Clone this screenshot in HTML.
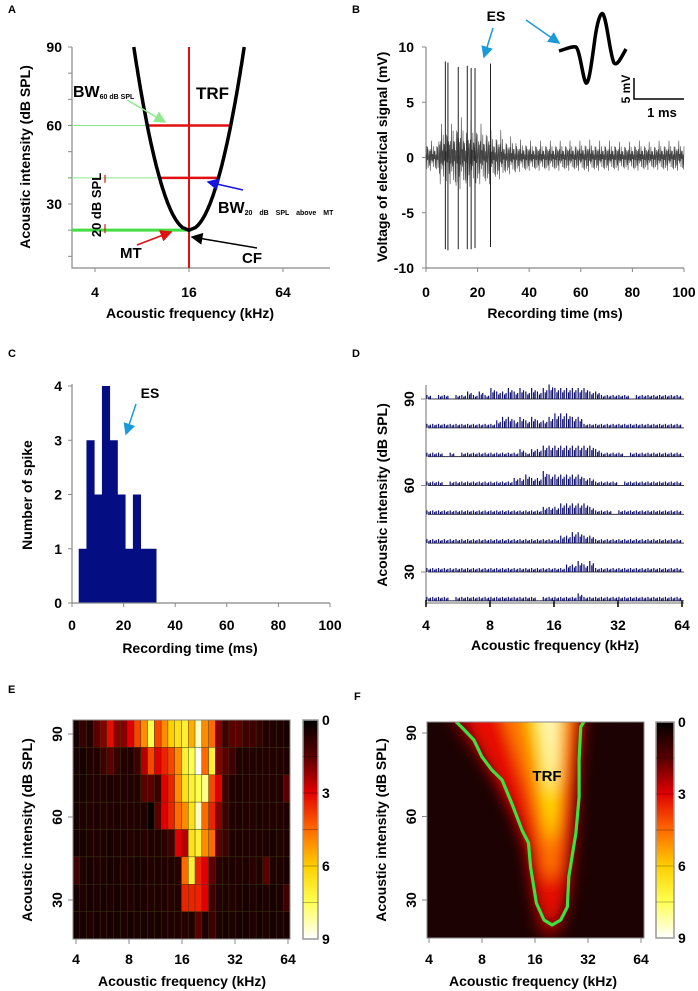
<!DOCTYPE html>
<html><head><meta charset="utf-8"><style>
body{margin:0;background:#fff}
svg{display:block;font-family:"Liberation Sans",Arial,sans-serif;font-weight:bold}
</style></head><body>
<svg id="fig" width="698" height="991" viewBox="0 0 698 991" xmlns="http://www.w3.org/2000/svg">
<defs>
<marker id="ag" markerWidth="8" markerHeight="8" refX="7" refY="4" orient="auto"><path d="M0,0 L8,4 L0,8 z" fill="#8ee88e"/></marker>
<marker id="ab" markerWidth="8" markerHeight="8" refX="7" refY="4" orient="auto"><path d="M0,0 L8,4 L0,8 z" fill="#1515e0"/></marker>
<marker id="ar" markerWidth="8" markerHeight="8" refX="7" refY="4" orient="auto"><path d="M0,0 L8,4 L0,8 z" fill="#e01010"/></marker>
<marker id="ak" markerWidth="8" markerHeight="8" refX="7" refY="4" orient="auto"><path d="M0,0 L8,4 L0,8 z" fill="#000"/></marker>
<marker id="ac" markerWidth="8" markerHeight="8" refX="7" refY="4" orient="auto"><path d="M0,0 L8,4 L0,8 z" fill="#1a9ad8"/></marker>
<linearGradient id="cbar" x1="0" y1="0" x2="0" y2="1">
<stop offset="0" stop-color="#000"/><stop offset="0.17" stop-color="#5a0000"/><stop offset="0.33" stop-color="#e00000"/><stop offset="0.5" stop-color="#ff6a00"/><stop offset="0.67" stop-color="#ffd000"/><stop offset="0.83" stop-color="#ffff50"/><stop offset="1" stop-color="#fff"/>
</linearGradient>
<filter id="blur" x="-20%" y="-20%" width="140%" height="140%"><feGaussianBlur stdDeviation="7"/></filter>
<clipPath id="fclip"><rect x="427" y="722" width="217" height="216"/></clipPath>
</defs>
<g id="A"></g>
<g id="B"></g>
<g id="C"></g>
<g id="D"></g>
<g id="E"></g>
<g id="F"></g>
</svg>
<script>
// ---------- data ----------
const freqTicks = [4, 8, 16, 32, 64];
const dbTicks = [30, 60, 90];
// Panel A
const trfCF = 16, trfMT = 20;
const bwLevels = [60, 40];
// Panel B
const spikeTimes = [7.5, 8.5, 12.5, 16, 17.5, 19, 25];
const spikeUp = [8.7, 8.6, 8.2, 8.3, 8.1, 8.1, 8.5];
const spikeDown = [-8.3, -8.4, -8.3, -8.3, -8.3, -8.2, -8.1];
const noiseEnvelope = [1.6, 3.2, 3.8, 3.5, 3.2, 2.6, 2.0, 1.7, 1.6, 1.6, 1.6, 1.6, 1.7, 1.6, 1.6, 1.5, 1.6, 1.5, 1.6, 1.6];
const noisePattern = [0.3, -0.8, 0.9, -0.2, 0.6, -1, 0.1, 0.8, -0.5, 0.4, -0.9, 0.7, -0.3, 1, -0.6, 0.2, -0.4, 0.9, -0.7, 0.5, -0.1, 0.6, -0.95];
const bTimeTicks = [0, 20, 40, 60, 80, 100];
const bVoltTicks = [-10, -5, 0, 5, 10];
// Panel C
const histStart = 2.6, histWidth = 3;
const histCounts = [1, 3, 2, 4, 3, 2, 1, 2, 1, 1];
const cCountTicks = [0, 1, 2, 3, 4];
// Panel D
const dLevels = [90, 80, 70, 60, 50, 40, 30, 20];
const dResp = [
 [1,0,1,1,0,1,1,2,1,2,1, 3,2,2,3,2,3,2,3,2,3,4, 3,3,3,3,3,3,2,2,1,1,1, 1,1,0,1,1,1,1,1,1,1,1],
 [1,1,1,1,1,1,1,1,1,1,1, 1,2,3,3,2,3,2,3,2,2,3, 4,4,4,3,3,1,1,1,1,1,1, 1,1,1,1,1,1,1,1,1,1,1],
 [1,1,1,0,1,0,1,1,1,1,1, 1,1,1,1,1,2,1,2,2,3,3, 3,3,3,3,3,3,3,2,1,1,1, 1,0,1,1,1,1,1,1,1,1,1],
 [1,1,1,0,1,1,1,1,1,1,1, 1,1,1,1,2,2,3,2,2,4,3, 3,3,3,3,3,2,2,1,1,1,1, 0,1,1,1,1,1,1,1,1,1,1],
 [1,1,1,1,1,1,1,1,1,1,1, 1,1,1,1,1,1,1,1,1,2,2, 2,3,3,3,3,3,2,1,1,1,0, 1,1,1,1,1,1,1,1,1,1,1],
 [1,1,1,1,1,1,1,1,1,1,1, 1,1,1,1,1,1,1,1,1,1,1, 1,2,2,3,3,2,2,1,1,1,1, 1,1,1,1,1,1,1,1,1,1,1],
 [1,1,1,1,1,1,1,1,1,1,1, 1,1,1,1,1,1,1,1,1,1,1, 1,1,2,2,3,2,3,1,1,1,1, 1,1,1,1,1,1,1,1,1,1,1],
 [1,1,1,1,0,1,1,1,1,1,1, 1,1,1,1,1,1,1,1,0,1,1, 1,1,1,1,2,1,1,1,1,1,1, 1,1,1,1,1,1,1,1,1,1,1]
];
// Panel E (8 rows top->bottom, 32 columns 4->64 kHz)
const eRows = [
 [0.3,0.8,0.5,1.5,2,3.2,2,2,3,4,5,7.5,4,5,6,6.5,7,5.5,8.5,5,4.5,2,1,1.5,1.5,1,1,0.8,0.5,0.5,0.4,0.3],
 [0.3,0.3,0.5,0.5,1,1.5,0.8,0.5,0.5,1,2.5,4,3,3.5,4,5,7,7.5,9,4.5,7,2,1.5,1,0.5,0.5,0.5,0.5,0.5,0.5,0.5,0.4],
 [0.3,0.3,0.4,0.5,0.5,0.4,0.5,0.5,0.5,0.5,1.5,1.5,1,3,3.5,5,6.5,7,7.5,8,4,3,1,0.5,0.4,0.5,0.5,0.5,0.5,0.5,0.5,1.5],
 [0.3,0.4,0.5,0.4,0.5,0.5,0.4,0.5,0.5,0.5,0.5,0,1.5,3,3.5,4.5,5,6.5,8.5,4.5,3.5,2,1,0.5,0.4,0.5,0.5,0.4,0.5,0.5,0.5,0.4],
 [0.3,0.3,0.4,0.5,0.4,0.3,0.5,0.4,0.5,0.4,0.6,0.5,0.5,0.6,1,3,2.5,6.5,7,5,4.5,1.5,1,0.5,0.4,0.5,0.4,0.5,0.4,0.3,0.5,0.4],
 [1,0.4,0.3,0.5,0.4,0.3,0.4,0.5,0.4,0.3,0.4,0.5,0.4,0.5,0.5,0.6,4.5,7,3.5,3,1.5,0.6,0.5,0.4,0.5,0.4,0.6,0.5,1.5,0.4,0.4,0.3],
 [0.3,0.4,0.3,0.4,0.3,0.4,0.3,0.4,0.5,0.3,0.4,0.5,0.4,0.5,0.6,0.5,3.5,3.5,3.5,3,1,0.5,0.4,0.5,0.4,0.3,0.4,0.3,0.4,0.3,0.4,1],
 [0.3,0.3,0.4,0.3,0.4,0.3,0.3,0.4,0.3,0.4,0.3,0.4,0.3,0.4,0.5,0.4,0.6,0.5,1.5,0.4,1,0.4,0.3,0.4,0.3,0.3,0.4,0.3,0.4,0.3,0.4,0.3]
];
const colorTicks = [0, 3, 6, 9];
// Panel F contour (kHz, dB SPL)
const fContourKHz = [5.7,6.2,7.2,8.0,9.1,10.4,11.8,13.5,14.7,15.1,16.3,18.0,20.0,22.4,24.4,24.9,27.3,28.5,28.5,29.1,30.3];
const fContourDB  = [94,91.8,87.5,81.4,76.7,73.1,64.8,55.1,50.5,41.8,28.9,22.8,21,22.8,27.5,38.3,54.1,67,80.3,92.2,94];

// ---------- helpers ----------
const NS = "http://www.w3.org/2000/svg";
function mk(parent, tag, attrs, text){
  const el = document.createElementNS(NS, tag);
  for (const k in attrs) el.setAttribute(k, attrs[k]);
  if (text !== undefined) el.textContent = text;
  parent.appendChild(el);
  return el;
}
function logScale(f0, x0, f1, x1){ return f => x0 + (Math.log2(f) - Math.log2(f0)) / (Math.log2(f1) - Math.log2(f0)) * (x1 - x0); }
function linScale(d0, r0, d1, r1){ return v => r0 + (v - d0) / (d1 - d0) * (r1 - r0); }
function heat(v){
  const stops = [[0,[8,0,0]],[1.5,[90,0,0]],[3,[224,0,0]],[4.5,[255,106,0]],[6,[255,208,0]],[7.5,[255,255,80]],[9,[255,255,255]]];
  v = Math.max(0, Math.min(9, v));
  for (let i = 0; i < stops.length - 1; i++){
    const [a, ca] = stops[i], [b, cb] = stops[i+1];
    if (v <= b){ const t = (v - a) / (b - a); return `rgb(${ca.map((c,j)=>Math.round(c+(cb[j]-c)*t)).join(",")})`; }
  }
  return "#fff";
}
function label(g, x, y, txt, size, anchor, rot, name){
  const t = mk(g, "text", {x:x, y:y, "font-size":size, "text-anchor":anchor||"middle"}, txt);
  if (rot) t.setAttribute("transform", `rotate(-90 ${x} ${y})`);
  
  
  return t;
}

// ---------- Panel A ----------
(function(){
  const g = document.getElementById("A");
  const X = logScale(4, 95, 64, 283), Y = linScale(90, 47, 30, 204);
  label(g, 8, 13, "A", 11, "start", false, "panel-label-a");
  const ax = mk(g, "path", {d:`M72,47 V268 H330`, stroke:"#888", fill:"none", "stroke-width":1.2});
   
  for (let d = 10; d <= 90; d += 10){ mk(g,"line",{x1:68,x2:72,y1:Y(d),y2:Y(d),stroke:"#888"}); }
  dbTicks.forEach(d => label(g, 62, Y(d)+5, String(d), 14, "end", false, "y-tick-a"));
  freqTicks.filter(f=>f!==8&&f!==32).forEach(f => { mk(g,"line",{x1:X(f),x2:X(f),y1:268,y2:272,stroke:"#888"}); label(g, X(f), 297, String(f), 14, "middle", false, "x-tick-a"); });
  label(g, 190, 318, "Acoustic frequency (kHz)", 14, "middle", false, "x-axis-title-a");
  label(g, 30, 157, "Acoustic intensity (dB SPL)", 14, "middle", true, "y-axis-title-a");
  const k = 40 / Math.pow(X(16*1.85)-X(16),2);
  const halfW = d => Math.sqrt((d - trfMT) / k);
  bwLevels.forEach(d => {
    const l = mk(g,"line",{x1:72,x2:X(trfCF)-halfW(d),y1:Y(d),y2:Y(d),stroke:"#8ee88e","stroke-width":1});
     
  });
  const mt = mk(g,"line",{x1:72,x2:X(trfCF),y1:Y(trfMT),y2:Y(trfMT),stroke:"#44dd44","stroke-width":3});
   
  const cf = mk(g,"line",{x1:X(trfCF),x2:X(trfCF),y1:47,y2:268,stroke:"#e01010","stroke-width":2});
   
  bwLevels.forEach(d => {
    const l = mk(g,"line",{x1:X(trfCF)-halfW(d),x2:X(trfCF)+halfW(d),y1:Y(d),y2:Y(d),stroke:"#e01010","stroke-width":2.5});
     
  });
  let p = "";
  for (let d = 90; d >= trfMT; d -= 1) p += (p?"L":"M") + (X(trfCF)-halfW(d)).toFixed(1) + "," + Y(d).toFixed(1);
  for (let d = trfMT; d <= 90; d += 1) p += "L" + (X(trfCF)+halfW(d)).toFixed(1) + "," + Y(d).toFixed(1);
  const c = mk(g,"path",{d:p,stroke:"#000","stroke-width":3.5,fill:"none"});
   
  mk(g,"line",{x1:105,x2:105,y1:Y(40)-3,y2:Y(40)+5,stroke:"#e01010","stroke-width":1.2});
  mk(g,"line",{x1:105,x2:105,y1:Y(20)-6,y2:Y(20)+3,stroke:"#e01010","stroke-width":1.2});
  label(g, 101, 205, "20 dB SPL", 13, "middle", true, "bracket-label");
  const bw1 = label(g, 73, 97, "BW", 16, "start", false, "bw60-label");
  mk(bw1,"tspan",{"font-size":7,dy:2},"60 dB SPL");
  label(g, 196, 99, "TRF", 17, "start", false, "trf-label-a");
  const bw2 = label(g, 218, 213, "BW", 16, "start", false, "bw20-label");
  mk(bw2,"tspan",{"font-size":7,dy:2,"word-spacing":"5"},"20 dB SPL above MT");
  label(g, 120, 258, "MT", 15, "start", false, "mt-label");
  label(g, 242, 263, "CF", 15, "start", false, "cf-label");
  mk(g,"line",{x1:127,y1:100,x2:165,y2:122,stroke:"#8ee88e","stroke-width":1.5,"marker-end":"url(#ag)"});
  mk(g,"line",{x1:243,y1:190,x2:208,y2:182,stroke:"#1515e0","stroke-width":1.5,"marker-end":"url(#ab)"});
  mk(g,"line",{x1:137,y1:245,x2:171,y2:232,stroke:"#e01010","stroke-width":1.5,"marker-end":"url(#ar)"});
  mk(g,"line",{x1:257,y1:248,x2:192,y2:237,stroke:"#000","stroke-width":1.5,"marker-end":"url(#ak)"});
})();

// ---------- Panel B ----------
(function(){
  const g = document.getElementById("B");
  const X = linScale(0, 426, 100, 684), Y = linScale(10, 47, -10, 268);
  label(g, 352, 13, "B", 11, "start", false, "panel-label-b");
  const ax = mk(g,"path",{d:"M426,47 V268 H684",stroke:"#888",fill:"none","stroke-width":1.2});
   
  bVoltTicks.forEach(v => { mk(g,"line",{x1:422,x2:426,y1:Y(v),y2:Y(v),stroke:"#888"}); label(g, 414, Y(v)+5, String(v), 14, "end", false, "y-tick-b"); });
  bTimeTicks.forEach(t => { mk(g,"line",{x1:X(t),x2:X(t),y1:268,y2:272,stroke:"#888"}); label(g, X(t), 297, String(t), 14, "middle", false, "x-tick-b"); });
  label(g, 555, 318, "Recording time (ms)", 14, "middle", false, "x-axis-title-b");
  label(g, 387, 157, "Voltage of electrical signal (mV)", 14, "middle", true, "y-axis-title-b");
  let d = "";
  for (let i = 0; i <= 600; i++){
    const t = i * 100 / 600;
    const env = noiseEnvelope[Math.min(19, Math.floor(t / 5))];
    const v = env * noisePattern[i % noisePattern.length] * (0.55 + 0.45 * noisePattern[(i*7) % noisePattern.length] * noisePattern[(i*7) % noisePattern.length]);
    d += (i ? "L" : "M") + X(t).toFixed(1) + "," + Y(v).toFixed(1);
  }
  const tr = mk(g,"path",{d:d,stroke:"#444","stroke-width":0.6,fill:"none"});
   
  spikeTimes.forEach((t,i) => {
    const s = mk(g,"line",{x1:X(t),x2:X(t),y1:Y(spikeUp[i]),y2:Y(spikeDown[i]),stroke:"#222","stroke-width":1});
     
  });
  const w = mk(g,"path",{d:"M559,51 C566,49 572,46 576,47 C580,50 583,80 586,83 C589,85 592,60 595,38 C598,18 601,12 603,14 C607,20 610,55 614,63 C617,66 620,60 626,49",stroke:"#000","stroke-width":3.5,fill:"none"});
   
  mk(g,"path",{d:"M634,78 V99 H684",stroke:"#000","stroke-width":1.5,fill:"none"});
  label(g, 630, 89, "5 mV", 12, "middle", true, "scale-bar-mv");
  label(g, 662, 117, "1 ms", 13, "middle", false, "scale-bar-ms");
  label(g, 496, 21, "ES", 14, "middle", false, "es-label-b");
  mk(g,"line",{x1:493,y1:28,x2:484,y2:57,stroke:"#1a9ad8","stroke-width":1.5,"marker-end":"url(#ac)"});
  mk(g,"line",{x1:526,y1:20,x2:559,y2:43,stroke:"#1a9ad8","stroke-width":1.5,"marker-end":"url(#ac)"});
})();

// ---------- Panel C ----------
(function(){
  const g = document.getElementById("C");
  const X = linScale(0, 72, 100, 330), Y = linScale(0, 603, 4, 386);
  label(g, 8, 357, "C", 11, "start", false, "panel-label-c");
  histCounts.forEach((c,i) => {
    const x0 = X(histStart + i*histWidth), x1 = X(histStart + (i+1)*histWidth);
    const r = mk(g,"rect",{x:x0,y:Y(c),width:x1-x0+0.4,height:Y(0)-Y(c),fill:"#050d82"});
     
  });
  const ax = mk(g,"path",{d:"M72,384 V603 H330",stroke:"#888",fill:"none","stroke-width":1.2});
   
  cCountTicks.forEach(v => { mk(g,"line",{x1:68,x2:72,y1:Y(v),y2:Y(v),stroke:"#888"}); label(g, 62, Y(v)+5, String(v), 14, "end", false, "y-tick-c"); });
  bTimeTicks.forEach(t => { mk(g,"line",{x1:X(t),x2:X(t),y1:603,y2:607,stroke:"#888"}); label(g, X(t), 630, String(t), 14, "middle", false, "x-tick-c"); });
  label(g, 190, 653, "Recording time (ms)", 14, "middle", false, "x-axis-title-c");
  label(g, 32, 495, "Number of spike", 14, "middle", true, "y-axis-title-c");
  label(g, 150, 398, "ES", 14, "middle", false, "es-label-c");
  mk(g,"line",{x1:136,y1:404,x2:126,y2:434,stroke:"#1a9ad8","stroke-width":1.5,"marker-end":"url(#ac)"});
})();

// ---------- Panel D ----------
(function(){
  const g = document.getElementById("D");
  const X = logScale(4, 426, 64, 682);
  const Y = linScale(90, 399, 30, 572);
  label(g, 352, 357, "D", 11, "start", false, "panel-label-d");
  const ax = mk(g,"path",{d:"M426,385 V603 H684",stroke:"#888",fill:"none","stroke-width":1.2});
   
  dbTicks.forEach(d => { mk(g,"line",{x1:421,x2:426,y1:Y(d),y2:Y(d),stroke:"#888"}); label(g, 414, Y(d), String(d), 14, "middle", true, "y-tick-d"); });
  freqTicks.forEach(f => { mk(g,"line",{x1:X(f),x2:X(f),y1:600,y2:607,stroke:"#000","stroke-width":1.5}); label(g, X(f), 630, String(f), 14, "middle", false, "x-tick-d"); });
  label(g, 555, 650, "Acoustic frequency (kHz)", 14, "middle", false, "x-axis-title-d");
  label(g, 387, 495, "Acoustic intensity (dB SPL)", 14, "middle", true, "y-axis-title-d");
  dLevels.forEach((lev, r) => {
    const base = Y(lev);
    const bl = mk(g,"line",{x1:428,x2:684,y1:base,y2:base,stroke:"#444","stroke-width":1});
     
    dResp[r].forEach((v, i) => {
      const f = 4 * Math.pow(2, (i + 0.5) / 11);
      const x = X(f);
      const h = v * 3.5 + 0.5;
      const b = mk(g,"path",{d:`M${x-2},${base} v${-h} M${x},${base} v${-h*0.6} M${x+1.5},${base} v${-h*0.8}`,stroke:"#101070","stroke-width":1.2,fill:"none"});
       
    });
  });
})();

function colorbar(g, x, w, y0, y1, labelX, name){
  const r = mk(g,"rect",{x:x,y:y0,width:w,height:y1-y0,fill:"url(#cbar)",stroke:"#999","stroke-width":1.5});
   
  for (let s = 1; s < 6; s++){ const yy = y0 + (y1-y0)*s/6; mk(g,"line",{x1:x,x2:x+w,y1:yy,y2:yy,stroke:"#000","stroke-opacity":0.35,"stroke-width":0.8}); }
  colorTicks.forEach(v => {
    const yy = y0 + (y1 - y0) * v / 9;
    label(g, labelX, yy + 5, String(v), 14, "start", false, "colorbar-tick");
  });
}

// ---------- Panel E ----------
(function(){
  const g = document.getElementById("E");
  const x0 = 73, x1 = 290, y0 = 720, y1 = 939;
  const cw = (x1 - x0) / 32, rh = (y1 - y0) / 8;
  const X = logScale(4, 76, 64, 288);
  const Y = linScale(90, 734, 30, 900);
  label(g, 8, 693, "E", 11, "start", false, "panel-label-e");
  eRows.forEach((row, r) => row.forEach((v, c) => {
    const cell = mk(g,"rect",{x:x0+c*cw,y:y0+r*rh,width:cw,height:rh,fill:heat(v),stroke:"#3a3a10","stroke-width":0.4});
     
  }));
  mk(g,"rect",{x:x0,y:y0,width:x1-x0,height:y1-y0,fill:"none",stroke:"#888","stroke-width":1});
  dbTicks.forEach(d => { mk(g,"line",{x1:68,x2:73,y1:Y(d),y2:Y(d),stroke:"#888"}); label(g, 62, Y(d), String(d), 14, "middle", true, "y-tick-e"); });
  freqTicks.forEach(f => { mk(g,"line",{x1:X(f),x2:X(f),y1:939,y2:944,stroke:"#888"}); label(g, X(f), 964, String(f), 14, "middle", false, "x-tick-e"); });
  label(g, 182, 986, "Acoustic frequency (kHz)", 14, "middle", false, "x-axis-title-e");
  label(g, 32, 830, "Acoustic intensity (dB SPL)", 14, "middle", true, "y-axis-title-e");
  colorbar(g, 303, 15, 720, 939, 322, "colorbar-e");
})();

// ---------- Panel F ----------
(function(){
  const g = document.getElementById("F");
  const X = logScale(4, 429, 64, 641);
  const Y = linScale(90, 733, 30, 900);
  label(g, 354, 700, "F", 11, "start", false, "panel-label-f");
  const hm = mk(g,"g",{"clip-path":"url(#fclip)"});
   
  mk(hm,"rect",{x:427,y:722,width:217,height:216,fill:"#1c0202"});
  const bl = mk(hm,"g",{filter:"url(#blur)"});
  const poly = (pts, col) => mk(bl,"polygon",{points:pts.map(p=>X(p[0]).toFixed(1)+","+Y(p[1]).toFixed(1)).join(" "),fill:col});
  poly([[5,100],[6,90],[7.5,82],[9.5,72],[12,60],[14,48],[15.5,30],[17,18],[20,16],[23,20],[25.5,32],[27.5,55],[29,80],[31,100]], "#8a0000");
  poly([[6.2,100],[7.5,88],[9.5,76],[12,62],[14.5,50],[16,34],[18,24],[20,22],[22.5,28],[24.5,40],[26.5,60],[28,80],[29.5,100]], "#e81000");
  poly([[10,100],[12,85],[14.5,70],[16.5,55],[18,42],[19.5,36],[21.5,42],[23,60],[25,85],[26,100]], "#ff7a00");
  poly([[14,100],[15.5,85],[17,70],[18.5,57],[19.8,50],[21,58],[22.5,75],[23.5,100]], "#ffe000");
  poly([[17,100],[18,88],[19,75],[20,68],[21,78],[21.7,100]], "#fffbc0");
  let d = "";
  fContourKHz.forEach((f,i) => { d += (i ? "L" : "M") + X(f).toFixed(1) + "," + Y(fContourDB[i]).toFixed(1); });
  const ct = mk(hm,"path",{d:d,stroke:"#3de03d","stroke-width":3.2,fill:"none","stroke-linejoin":"round"});
   
  label(g, 547, 781, "TRF", 15, "middle", false, "trf-label-f");
  mk(g,"rect",{x:427,y:722,width:217,height:216,fill:"none",stroke:"#888","stroke-width":1});
  dbTicks.forEach(d2 => { mk(g,"line",{x1:422,x2:427,y1:Y(d2),y2:Y(d2),stroke:"#888"}); label(g, 416, Y(d2), String(d2), 14, "middle", true, "y-tick-f"); });
  freqTicks.forEach(f => { mk(g,"line",{x1:X(f),x2:X(f),y1:938,y2:943,stroke:"#888"}); label(g, X(f), 964, String(f), 14, "middle", false, "x-tick-f"); });
  label(g, 533, 986, "Acoustic frequency (kHz)", 14, "middle", false, "x-axis-title-f");
  label(g, 386, 830, "Acoustic intensity (dB SPL)", 14, "middle", true, "y-axis-title-f");
  colorbar(g, 656, 18, 722, 938, 678, "colorbar-f");
})();
</script>
</body></html>
